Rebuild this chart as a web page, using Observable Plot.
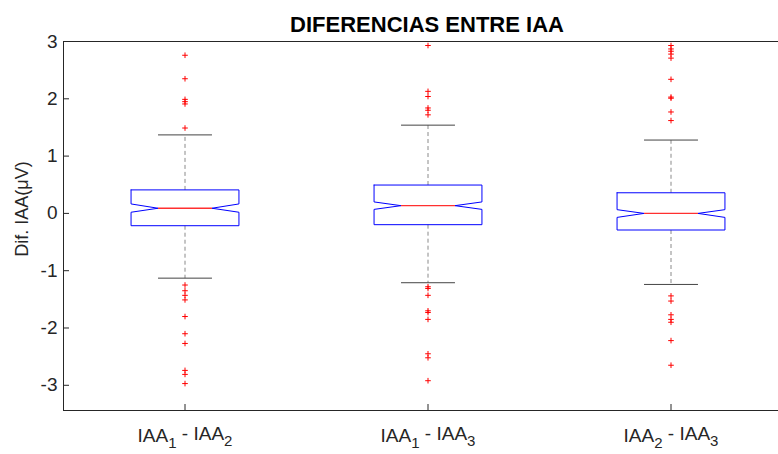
<!DOCTYPE html>
<html><head><meta charset="utf-8">
<script src="https://cdn.jsdelivr.net/npm/d3@7"></script>
<script src="https://cdn.jsdelivr.net/npm/@observablehq/plot@0.6"></script>
<style>body{margin:0;background:#fff;overflow:hidden} svg{display:block}</style>
</head><body><div id="chart"></div>
<script>
const title = "DIFERENCIAS ENTRE IAA";
const yLabel = "Dif. IAA(μV)";
const categories = ["IAA1 - IAA2", "IAA1 - IAA3", "IAA2 - IAA3"];
const q1 = [-0.215, -0.197, -0.29];
const q3 = [0.41, 0.495, 0.36];
const median = [0.09, 0.135, 0.0];
const notchLo = [0.02, 0.07, -0.07];
const notchHi = [0.165, 0.2, 0.065];
const whiskerLo = [-1.13, -1.21, -1.24];
const whiskerHi = [1.37, 1.54, 1.28];
const outliers1 = [2.76, 2.35, 1.99, 1.95, 1.91, 1.49, -1.25, -1.35, -1.43, -1.51, -1.80, -2.10, -2.27, -2.74, -2.81, -2.97];
const outliers2 = [2.93, 2.13, 2.04, 1.84, 1.80, 1.72, -1.28, -1.31, -1.43, -1.70, -1.73, -1.85, -2.45, -2.52, -2.92];
const outliers3 = [2.93, 2.87, 2.83, 2.78, 2.71, 2.34, 2.03, 2.01, 1.77, 1.62, -1.44, -1.53, -1.77, -1.85, -1.90, -2.22, -2.65];
const yTicks = [-3, -2, -1, 0, 1, 2, 3];
const yDomain = [-3.44, 3];
const xDomain = [0.5, 3.5];

const boxHalf = 0.222, notchHalf = 0.111, capHalf = 0.111;
const pos = categories.map((c, i) => i + 1);
const outline = [];
categories.forEach((c, i) => {
  const x = i + 1;
  [[x - boxHalf, q3[i]], [x + boxHalf, q3[i]], [x + boxHalf, notchHi[i]], [x + notchHalf, median[i]],
   [x + boxHalf, notchLo[i]], [x + boxHalf, q1[i]], [x - boxHalf, q1[i]], [x - boxHalf, notchLo[i]],
   [x - notchHalf, median[i]], [x - boxHalf, notchHi[i]], [x - boxHalf, q3[i]]]
    .forEach(([px, py]) => outline.push({cat: c, x: px, y: py}));
});
const stats = categories.map((c, i) => ({cat: c, x: i + 1, q1: q1[i], q3: q3[i], med: median[i], lo: whiskerLo[i], hi: whiskerHi[i]}));
const outl = [];
[outliers1, outliers2, outliers3].forEach((arr, i) => arr.forEach(v => outl.push({x: i + 1, y: v})));

const plusSymbol = {draw(ctx, size) { const r = Math.sqrt(size / Math.PI); ctx.moveTo(-r, 0); ctx.lineTo(r, 0); ctx.moveTo(0, -r); ctx.lineTo(0, r); }};

const chart = Plot.plot({
  width: 778, height: 454,
  marginLeft: 63, marginRight: 0, marginTop: 41, marginBottom: 44,
  style: {fontFamily: "'Liberation Sans', Arial, sans-serif", fontSize: "19px", color: "#262626", background: "#fff"},
  x: {domain: xDomain, range: [63, 792]},
  y: {domain: yDomain},
  marks: [
    Plot.axisY({ticks: yTicks, tickFormat: d => String(d), tickSize: -6, tickPadding: 12, label: null, stroke: "#262626"}),
    Plot.axisX({ticks: pos, tickFormat: d => categories[d - 1], tickSize: -6, tickPadding: 24, label: null, stroke: "#262626"}),
    Plot.ruleY([yDomain[1]], {stroke: "#262626"}),
    Plot.ruleY([yDomain[0]], {stroke: "#262626"}),
    Plot.ruleX([xDomain[0]], {stroke: "#262626"}),
    Plot.link(stats, {x1: "x", x2: "x", y1: "q3", y2: "hi", stroke: "#8a8a8a", strokeDasharray: "4,3"}),
    Plot.link(stats, {x1: "x", x2: "x", y1: "q1", y2: "lo", stroke: "#8a8a8a", strokeDasharray: "4,3"}),
    Plot.link(stats, {x1: d => d.x - capHalf, x2: d => d.x + capHalf, y1: "hi", y2: "hi", stroke: "#444"}),
    Plot.link(stats, {x1: d => d.x - capHalf, x2: d => d.x + capHalf, y1: "lo", y2: "lo", stroke: "#444"}),
    Plot.line(outline, {x: "x", y: "y", z: "cat", stroke: "#0000ff", strokeWidth: 1}),
    Plot.link(stats, {x1: d => d.x - notchHalf, x2: d => d.x + notchHalf, y1: "med", y2: "med", stroke: "#ff3030", strokeWidth: 1.3}),
    Plot.dot(outl, {x: "x", y: "y", symbol: plusSymbol, r: 2.8, stroke: "#ff0000", strokeWidth: 1, fill: "none"}),
    Plot.text([title], {frameAnchor: "top", dx: 6, dy: -10, lineAnchor: "bottom", fontSize: 22, fontWeight: "bold", fill: "#000"}),
    Plot.text([yLabel], {frameAnchor: "left", textAnchor: "middle", dx: -41, dy: -17, rotate: -90, fontSize: 18, fill: "#262626"})
  ]
});
d3.select(chart).selectAll('g[aria-label="x-axis tick label"] text').each(function () {
  const t = this.textContent;
  const m = t.match(/^(\D+)(\d) - (\D+)(\d)$/);
  if (!m) return;
  const sel = d3.select(this);
  sel.text(null);
  sel.append("tspan").text(m[1]);
  sel.append("tspan").attr("dy", "0.4em").attr("font-size", "15px").text(m[2]);
  sel.append("tspan").attr("dy", "-0.4em").text(" - " + m[3]);
  sel.append("tspan").attr("dy", "0.4em").attr("font-size", "15px").text(m[4]);
});
document.getElementById("chart").appendChild(chart);
</script>
</body></html>
